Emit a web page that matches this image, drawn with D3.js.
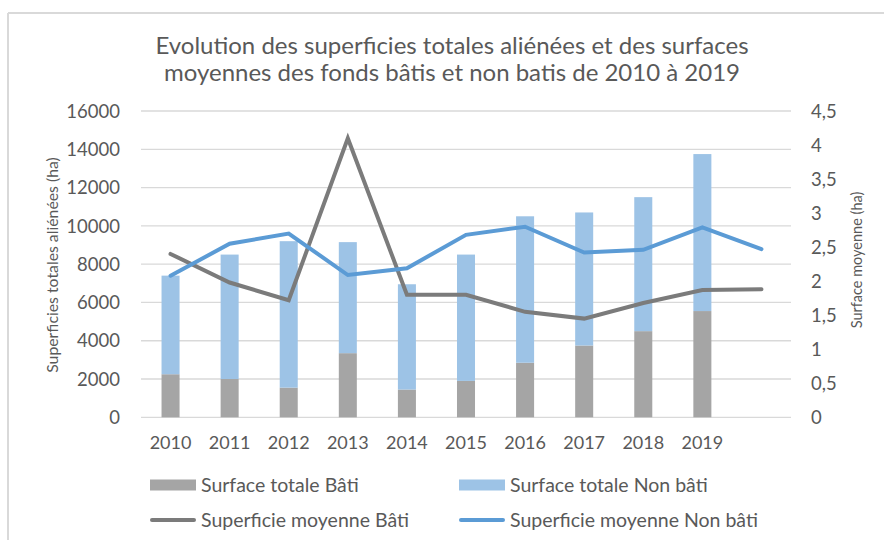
<!DOCTYPE html>
<html><head><meta charset="utf-8">
<script src="https://cdn.jsdelivr.net/npm/d3@7"></script>
<style>
html,body{margin:0;padding:0;background:#fff;}
svg{display:block;font-family:Lato,"Open Sans",sans-serif;}
</style></head>
<body>
<svg id="chart" width="884" height="540"></svg>
<script>
// ---- data ----
const categories = ["2010","2011","2012","2013","2014","2015","2016","2017","2018","2019",""];
const surfaceTotaleBati = [2250, 2000, 1550, 3350, 1450, 1900, 2850, 3750, 4500, 5550];
const surfaceTotaleNonBati = [5150, 6500, 7650, 5800, 5500, 6600, 7650, 6950, 7000, 8200];
const superficieMoyenneBati = [2.4, 1.98, 1.72, 4.1, 1.8, 1.8, 1.55, 1.45, 1.68, 1.87, 1.88];
const superficieMoyenneNonBati = [2.08, 2.55, 2.7, 2.09, 2.19, 2.68, 2.8, 2.42, 2.46, 2.79, 2.47];
const leftTicks = [0,2000,4000,6000,8000,10000,12000,14000,16000];
const rightTicks = [0,0.5,1,1.5,2,2.5,3,3.5,4,4.5];
const rightTickLabels = ["0","0,5","1","1,5","2","2,5","3","3,5","4","4,5"];
const titleLines = ["Evolution des superficies totales aliénées et des surfaces",
                    "moyennes des fonds bâtis et non batis de 2010 à 2019"];
const legendItems = [
  {label:"Surface totale Bâti", type:"rect", color:"#a5a5a5"},
  {label:"Surface totale Non bâti", type:"rect", color:"#9dc3e6"},
  {label:"Superficie moyenne Bâti", type:"line", color:"#7b7b7b"},
  {label:"Superficie moyenne Non bâti", type:"line", color:"#5b9bd5"}
];

const textColor = "#595959";
const gridColor = "#d9d9d9";
const svg = d3.select("#chart");

// frame (left & top only visible)
svg.append("line").attr("x1",8).attr("x2",884).attr("y1",13).attr("y2",13)
  .attr("stroke",gridColor).attr("stroke-width",2);
svg.append("line").attr("x1",8).attr("x2",8).attr("y1",13).attr("y2",540)
  .attr("stroke",gridColor).attr("stroke-width",2);

// title
svg.append("g").selectAll("text").data(titleLines).join("text")
  .attr("x",452).attr("y",(d,i)=>45+i*27).attr("dy","0.36em")
  .attr("text-anchor","middle").attr("fill",textColor)
  .style("font-size","24px").text(d=>d);

const x0 = 141, x1 = 791, yTop = 111, yBot = 417.3;
const x = d3.scaleBand().domain(categories).range([x0,x1])
  .paddingInner(0.695).paddingOuter(0.3475);
const yL = d3.scaleLinear().domain([0,16000]).range([yBot,yTop]);
const yR = d3.scaleLinear().domain([0,4.5]).range([yBot,yTop]);

// gridlines
svg.append("g").selectAll("line").data(leftTicks).join("line")
  .attr("x1",x0).attr("x2",x1)
  .attr("y1",d=>yL(d)).attr("y2",d=>yL(d))
  .attr("stroke",gridColor).attr("stroke-width",1.3);

// left axis labels
svg.append("g").selectAll("text").data(leftTicks).join("text")
  .attr("x",120).attr("y",d=>yL(d)).attr("dy","0.36em")
  .attr("text-anchor","end").attr("fill",textColor)
  .style("font-size","18.5px").text(d=>d);

// right axis labels
svg.append("g").selectAll("text").data(rightTicks).join("text")
  .attr("x",811).attr("y",d=>yR(d)).attr("dy","0.36em")
  .attr("text-anchor","start").attr("fill",textColor)
  .style("font-size","18.5px").text((d,i)=>rightTickLabels[i]);

// x labels
svg.append("g").selectAll("text").data(categories).join("text")
  .attr("x",d=>x(d)+x.bandwidth()/2).attr("y",443).attr("dy","0.36em")
  .attr("text-anchor","middle").attr("fill",textColor)
  .style("font-size","18px").text(d=>d);

// axis titles
svg.append("text").attr("transform","translate(52,265) rotate(-90)")
  .attr("text-anchor","middle").attr("dy","0.36em").attr("fill",textColor)
  .style("font-size","15.8px").text("Superficies totales aliénées (ha)");
svg.append("text").attr("transform","translate(857,260) rotate(-90)")
  .attr("text-anchor","middle").attr("dy","0.36em").attr("fill",textColor)
  .style("font-size","14.5px").text("Surface moyenne (ha)");

// stacked bars
const barYears = categories.slice(0, surfaceTotaleBati.length);
const barsG = svg.append("g");
barsG.selectAll("rect.bati").data(barYears).join("rect").attr("class","bati")
  .attr("x",d=>x(d)).attr("width",x.bandwidth())
  .attr("y",(d,i)=>yL(surfaceTotaleBati[i]))
  .attr("height",(d,i)=>yL(0)-yL(surfaceTotaleBati[i]))
  .attr("fill","#a5a5a5");
barsG.selectAll("rect.nonbati").data(barYears).join("rect").attr("class","nonbati")
  .attr("x",d=>x(d)).attr("width",x.bandwidth())
  .attr("y",(d,i)=>yL(surfaceTotaleBati[i]+surfaceTotaleNonBati[i]))
  .attr("height",(d,i)=>yL(surfaceTotaleBati[i])-yL(surfaceTotaleBati[i]+surfaceTotaleNonBati[i]))
  .attr("fill","#9dc3e6");

// lines
const line = d3.line().x((d,i)=>x(categories[i])+x.bandwidth()/2).y(d=>yR(d));
svg.append("path").datum(superficieMoyenneBati).attr("d",line)
  .attr("fill","none").attr("stroke","#7b7b7b").attr("stroke-width",4)
  .attr("stroke-linecap","round");
svg.append("path").datum(superficieMoyenneNonBati).attr("d",line)
  .attr("fill","none").attr("stroke","#5b9bd5").attr("stroke-width",4)
  .attr("stroke-linecap","round");

// legend
const legendPos = [[150,485],[459,485],[150,520],[459,520]];
const lg = svg.append("g").selectAll("g").data(legendItems).join("g")
  .attr("transform",(d,i)=>`translate(${legendPos[i][0]},${legendPos[i][1]})`);
lg.each(function(d){
  const g = d3.select(this);
  if(d.type==="rect"){
    g.append("rect").attr("x",0).attr("y",-5.5).attr("width",46).attr("height",11).attr("fill",d.color);
  } else {
    g.append("line").attr("x1",2).attr("x2",44).attr("y1",0).attr("y2",0)
      .attr("stroke",d.color).attr("stroke-width",4).attr("stroke-linecap","round");
  }
  g.append("text").attr("x",51).attr("y",0).attr("dy","0.36em")
    .attr("fill",textColor).style("font-size","19.5px").text(d.label);
});
</script>
</body></html>
